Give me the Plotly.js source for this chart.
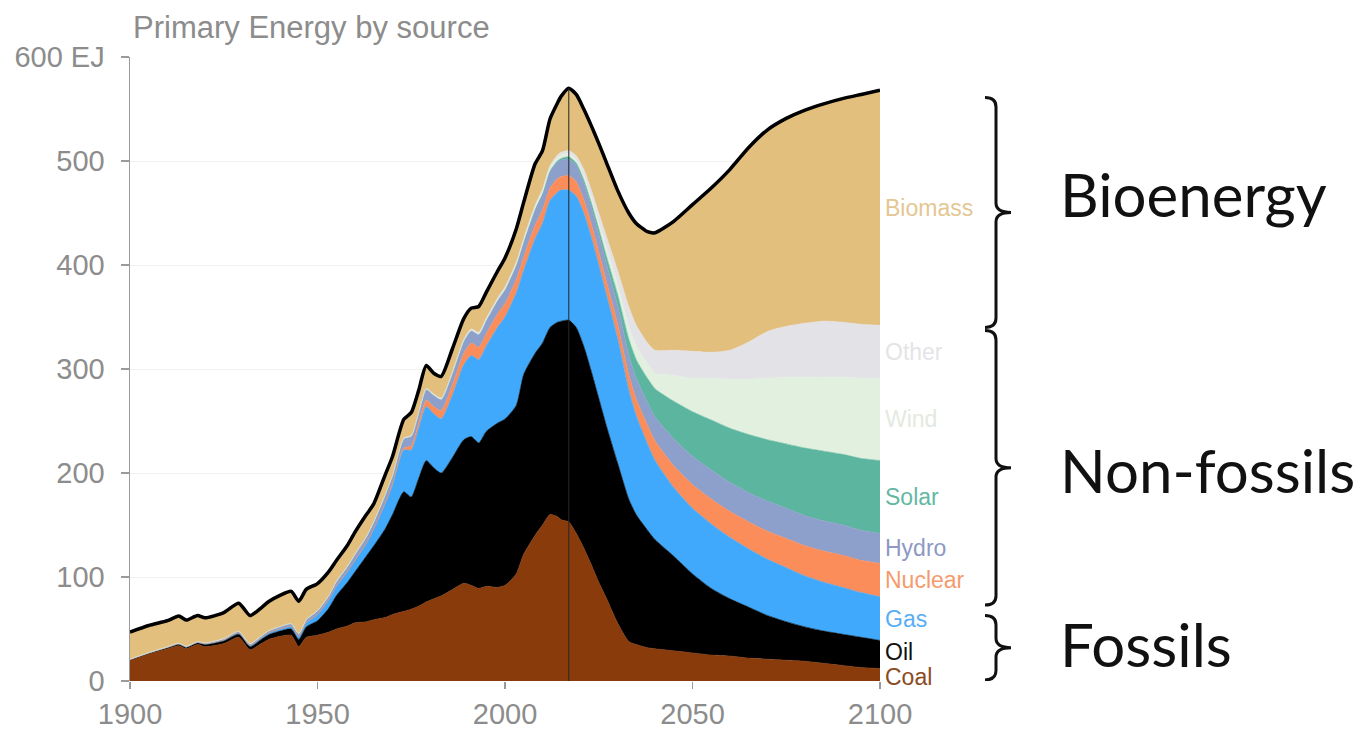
<!DOCTYPE html>
<html>
<head>
<meta charset="utf-8">
<script src="https://cdn.plot.ly/plotly-3.0.1.min.js"></script>
<style>
  html, body { margin: 0; padding: 0; background: #ffffff; }
  #chart { width: 1363px; height: 731px; }
</style>
</head>
<body>
<div id="chart"></div>
<script>
// ---- data (EJ per year) ----
const years = [1900,1905,1910,1913,1915,1918,1920,1925,1929,1932,
               1935,1937,1940,1943,1945,1947,1950,1953,1955,1958,
               1960,1963,1965,1968,1970,1973,1975,1977,1979,1981,
               1983,1986,1989,1991,1993,1995,1998,2000,2003,2005,
               2008,2010,2012,2014,2015,2017,2019,2021,2023,2025,
               2027,2030,2033,2035,2038,2040,2045,2050,2055,2060,
               2065,2070,2075,2080,2085,2090,2095,2100];

const coal = [20,26,31,34,31,35,33,36,42,30,
              36,40,43,44,33,42,44,47,50,53,
              56,57,59,61,64,67,69,72,76,79,
              82,88,94,92,89,91,90,92,103,122,
              140,150,160,158,155,153,142,128,112,95,
              80,56,38,35,32,31,29,27,25,24,
              22,21,20,19,17,15,13,12];

const oil = [0.5,0.6,1,1.2,1.3,1.5,2,2.5,3,3,
             4,4.5,5,6,7,10,14,23,32,42,
             49,63,71,85,96,115,108,123,136,126,
             118,127,138,143,140,149,158,160,162,173,
             175,175,180,187,191,194,198,194,186,177,
             166,154,137,125,113,105,91,76,64,55,
             49,42,37,33,31,30,29,27];

const gas = [0.2,0.3,0.4,0.5,0.5,0.6,0.7,1,1.2,1.3,
             1.5,1.8,2,2.5,3,4,6,8,9,10,
             11,12,16,24,28,40,45,48,52,52,
             52,60,72,78,80,82,92,98,108,100,
             110,115,122,125,126,125,126,128,129,128,
             126,120,105,95,83,76,66,63,62,59,
             56,54,52,49,47,45,43,42];

const nuclear = [0,0,0,0,0,0,0,0,0,0,
                 0,0,0,0,0,0,0,0,0,0,
                 0,0,0,0.5,1,2,4,5,6,7,
                 8,10,11,12,12,12,13,13,13,13,
                 13,13,12,13,13,14,14,13,13,13,
                 13,14,15,16,18,19,21,23,24,25,
                 26,27,28,29,30,31,31,32];

const hydro = [0.3,0.4,0.5,0.6,0.7,0.8,0.9,1.2,1.5,1.5,
               1.8,2,2.3,2.6,2.6,3,3.5,4,4.5,5.2,
               5.8,6.5,7,8,8.5,9,9.5,10,10.5,11,
               11,11.5,12,12,12.5,13,13,13.5,14,14.5,
               15,15,15.5,16,16,16,16,16,16,17,
               17,18,19,20,22,23,26,27,28,28,
               28,29,29,29,29,29,29,29];

const solar = [0,0,0,0,0,0,0,0,0,0,
               0,0,0,0,0,0,0,0,0,0,
               0,0,0,0,0,0,0,0,0,0,
               0,0,0,0,0,0,0,0,0.05,0.1,
               0.2,0.4,0.8,1.2,1.5,2,2,3,4,5,
               7,10,15,18,23,27,36,43,48,52,
               56,59,62,65,67,68,69,70];

const wind = [0,0,0,0,0,0,0,0,0,0,
              0,0,0,0,0,0,0,0,0,0,
              0,0,0,0,0,0,0,0,0,0,
              0,0,0,0,0,0,0.2,0.3,0.6,0.8,
              1.5,2,2.5,2.8,3,3,3,4,5,6,
              8,10,12,13,14,15,25,32,40,47,
              53,59,64,68,71,74,77,79];

const other = [0.1,0.1,0.1,0.1,0.1,0.1,0.1,0.1,0.1,0.1,
               0.1,0.1,0.1,0.1,0.1,0.1,0.2,0.2,0.2,0.3,
               0.3,0.3,0.3,0.3,0.4,0.5,0.6,0.7,0.8,0.9,
               1,1.2,1.4,1.5,1.6,1.7,1.8,2,2,2.2,
               2.4,2.5,2.6,2.8,2.9,3,4,6,7,9,
               11,13,19,20,20,22,24,26,25,28,
               36,45,49,52,54,53,52,51];

const biomass = [26,26,25,26,25,25,24,25,27,27,
                 27,28,30,31,31,29,26,23,20,20,
                 21,21,17,19,18,18,22,21,22,20,
                 21,22,20,20,25,25,26,28,32,35,
                 40,37,45,50,54,60,59,58,62,67,
                 71,77,90,98,107,113,124,141,158,174,
                 187,194,200,205,209,215,221,226];

const sourceNames = ['Coal','Oil','Gas','Nuclear','Hydro','Solar','Wind','Other','Biomass'];
const xTickVals = [1900,1950,2000,2050,2100];
const yTickVals = [0,100,200,300,400,500,600];
const yTickText = ['0','100','200','300','400','500','600 EJ'];
const todayYear = 2017;
const groups = [
  {name:'Bioenergy',   lo:340, hi:561, shift:18},
  {name:'Non-fossils', lo:73,  hi:337, shift:-2},
  {name:'Fossils',     lo:1,   hi:63,  shift:4}
];

// ---- styles ----
const fillColors = {
  Coal:'#8a3b0b', Oil:'#000000', Gas:'#41a9fb', Nuclear:'#fb8d5a', Hydro:'#8d9fcb',
  Solar:'#5cb59e', Wind:'#e2f0df', Other:'#e3e3e7', Biomass:'#e3bf7d'
};
const labelColors = {
  Coal:'#8b4a1f', Oil:'#111111', Gas:'#58aef2', Nuclear:'#f59b6d', Hydro:'#8e98c4',
  Solar:'#63b8a3', Wind:'#e3eae0', Other:'#e4e4e6', Biomass:'#e4c793'
};
const labelShift = {Oil:2, Coal:-2};
const series = [coal, oil, gas, nuclear, hydro, solar, wind, other, biomass];

// ---- traces ----
const traces = series.map((vals, i) => ({
  type:'scatter', mode:'lines', x:years, y:vals, name:sourceNames[i],
  stackgroup:'one', fillcolor:fillColors[sourceNames[i]],
  line:{width:0.6, color:fillColors[sourceNames[i]], shape:'spline', smoothing:0.6},
  hoverinfo:'skip'
}));

const total = years.map((_, j) => series.reduce((s, arr) => s + arr[j], 0));
traces.push({
  type:'scatter', mode:'lines', x:years, y:total, name:'Total',
  line:{width:3.5, color:'#000000', shape:'spline', smoothing:0.6}, hoverinfo:'skip'
});

// ---- labels at the right edge (band midpoints in the last year) ----
const last = years.length - 1;
const annotations = [];
let cum = 0;
series.forEach((vals, i) => {
  const mid = cum + vals[last] / 2;
  cum += vals[last];
  const nm = sourceNames[i];
  annotations.push({
    x: years[last], y: mid, xref:'x', yref:'y', xanchor:'left', yanchor:'middle',
    xshift: 3, yshift: labelShift[nm] || 0, showarrow:false, text: nm,
    font:{family:'Liberation Sans, Arial, sans-serif', size:23, color:labelColors[nm]}
  });
});

// ---- braces and group names ----
const px = v => (v - 130) / 750;   // pixel column -> paper x
const xe = px(985), xv = px(996), xt = px(1011);
const shapes = [];
groups.forEach(g => {
  const r = 9, mid = (g.lo + g.hi) / 2;
  const path = `M ${xe},${g.hi} Q ${xv},${g.hi} ${xv},${g.hi - r} L ${xv},${mid + r} ` +
               `Q ${xv},${mid} ${xt},${mid} Q ${xv},${mid} ${xv},${mid - r} ` +
               `L ${xv},${g.lo + r} Q ${xv},${g.lo} ${xe},${g.lo}`;
  shapes.push({type:'path', xref:'paper', yref:'y', path:path,
               line:{color:'#111111', width:3}, layer:'above'});
  annotations.push({
    x: px(1058), y: mid, xref:'paper', yref:'y', xanchor:'left', yanchor:'middle',
    yshift: g.shift, showarrow:false, text: g.name,
    font:{family:'Lato, "Open Sans", sans-serif', size:60, color:'#111111'}
  });
});

// today marker line
const todayIdx = years.indexOf(todayYear);
shapes.push({type:'line', xref:'x', yref:'y', x0:todayYear, x1:todayYear,
             y0:0, y1:total[todayIdx], line:{color:'rgba(40,40,40,0.85)', width:1.2}, layer:'above'});

const layout = {
  width:1363, height:731,
  margin:{l:130, r:483, t:57, b:50, pad:0},
  paper_bgcolor:'#ffffff', plot_bgcolor:'#ffffff',
  showlegend:false,
  title:{
    text:'Primary Energy by source', xref:'container', yref:'container',
    x:133/1363, xanchor:'left', y:1 - 27/731, yanchor:'middle',
    font:{family:'Liberation Sans, Arial, sans-serif', size:31, color:'#8c8c8c'}
  },
  xaxis:{
    range:[1900,2100], tickvals:xTickVals, ticktext:xTickVals.map(String),
    showgrid:false, zeroline:false, showline:false,
    ticks:'outside', ticklen:7, tickwidth:1.2, tickcolor:'#9a9a9a',
    ticklabelstandoff:0,
    tickfont:{family:'Liberation Sans, Arial, sans-serif', size:29, color:'#8c8c8c'}
  },
  yaxis:{
    range:[0,600], tickvals:yTickVals, ticktext:yTickText,
    showgrid:true, gridcolor:'#f1f1f1', gridwidth:1, zeroline:false,
    showline:true, linecolor:'#9a9a9a', linewidth:1.5,
    ticks:'outside', ticklen:8, tickwidth:1.2, tickcolor:'#9a9a9a',
    ticklabelstandoff:10,
    tickfont:{family:'Liberation Sans, Arial, sans-serif', size:29, color:'#8c8c8c'}
  },
  annotations:annotations,
  shapes:shapes
};

Plotly.newPlot('chart', traces, layout, {staticPlot:true, displayModeBar:false});
</script>
</body>
</html>
